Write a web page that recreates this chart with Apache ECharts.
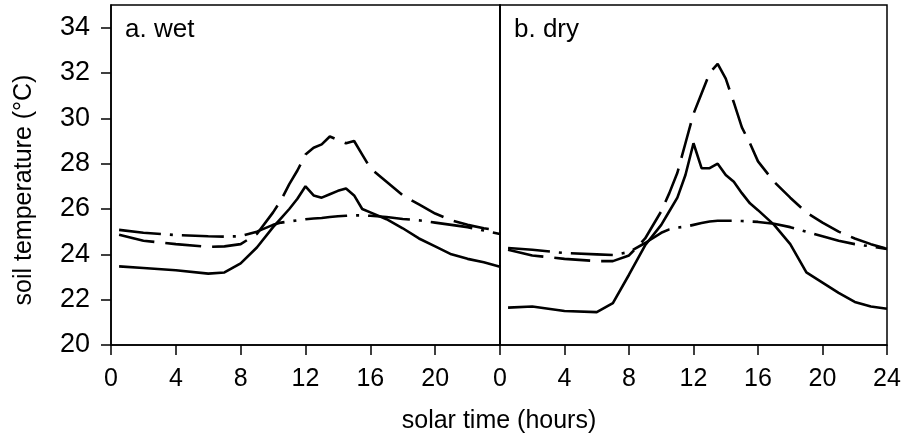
<!DOCTYPE html>
<html>
<head>
<meta charset="utf-8">
<script src="https://cdn.jsdelivr.net/npm/echarts@6/dist/echarts.min.js"></script>
<style>
  html, body { margin: 0; padding: 0; background: #fff; }
  #chart { width: 908px; height: 446px; }
</style>
</head>
<body>
<div id="chart"></div>
<script>
// Solar time of each reading (hours)
const hours = [0.5, 2, 4, 6, 7, 8, 9, 10, 10.5, 11, 11.5, 12, 12.5, 13, 13.5, 14, 14.5, 15, 15.5, 16, 17, 18, 19, 20, 21, 22, 23, 24];

// a. wet — soil temperature (°C)
const wetSolid   = [23.47, 23.4, 23.3, 23.15, 23.2, 23.6, 24.3, 25.2, 25.6, 26.0, 26.45, 27.0, 26.6, 26.5, 26.65, 26.8, 26.9, 26.6, 26.0, 25.85, 25.55, 25.15, 24.7, 24.35, 24.0, 23.8, 23.65, 23.45];
const wetDashed  = [24.86, 24.6, 24.45, 24.33, 24.35, 24.45, 24.9, 25.85, 26.4, 27.1, 27.7, 28.4, 28.7, 28.85, 29.2, 29.05, 28.9, 29.0, 28.4, 27.8, 27.2, 26.6, 26.2, 25.8, 25.5, 25.3, 25.15, 25.05];
const wetDashDot = [25.08, 24.95, 24.85, 24.8, 24.78, 24.8, 25.0, 25.3, 25.4, 25.45, 25.5, 25.55, 25.58, 25.6, 25.65, 25.68, 25.7, 25.72, 25.72, 25.7, 25.65, 25.56, 25.5, 25.4, 25.3, 25.2, 25.05, 24.9];

// b. dry — soil temperature (°C)
const drySolid   = [21.65, 21.7, 21.5, 21.45, 21.85, 23.1, 24.4, 25.3, 25.9, 26.5, 27.5, 28.9, 27.8, 27.8, 28.0, 27.5, 27.2, 26.7, 26.25, 25.95, 25.3, 24.45, 23.2, 22.75, 22.3, 21.9, 21.7, 21.6];
const dryDashed  = [24.2, 23.95, 23.8, 23.7, 23.7, 23.95, 24.7, 25.9, 26.7, 27.6, 28.9, 30.2, 31.1, 32.0, 32.4, 31.75, 30.7, 29.6, 28.9, 28.1, 27.2, 26.5, 25.85, 25.4, 25.0, 24.7, 24.45, 24.25];
const dryDashDot = [24.28, 24.2, 24.06, 24.0, 23.97, 24.1, 24.5, 24.95, 25.1, 25.18, 25.22, 25.3, 25.38, 25.45, 25.48, 25.48, 25.48, 25.47, 25.45, 25.43, 25.35, 25.2, 25.0, 24.8, 24.6, 24.45, 24.35, 24.24];

// Axis ticks and labels
const yTicks = [20, 22, 24, 26, 28, 30, 32, 34];
const xTicks = [0, 4, 8, 12, 16, 20, 24];
const xLabelsWet = [0, 4, 8, 12, 16, 20];
const xLabelsDry = [0, 4, 8, 12, 16, 20, 24];

const FONT = '"Liberation Sans", Arial, Helvetica, sans-serif';
const pairs = arr => hours.map((h, i) => [h, arr[i]]);

const chart = echarts.init(document.getElementById('chart'), null, { renderer: 'canvas' });

const lineCommon = { type: 'line', symbol: 'none', smooth: false, silent: true, z: 3 };
const solidStyle   = { color: '#000', width: 2.6, type: 'solid' };
const dashedStyle  = { color: '#000', width: 2.6, type: [36, 11], cap: 'butt' };
const dashDotStyle = { color: '#000', width: 2.6, type: [42, 9, 3, 9], cap: 'butt' };

function xAxis(gridIndex, labels) {
  return {
    type: 'value', gridIndex, min: 0, max: 24, interval: 4,
    axisLine: { show: true, onZero: false, lineStyle: { color: '#000', width: 1.5 } },
    axisTick: { show: true, inside: false, length: 10, customValues: xTicks, lineStyle: { color: '#000', width: 1.5 } },
    axisLabel: { show: true, customValues: labels, margin: 22, color: '#000', fontFamily: FONT, fontSize: 25 },
    splitLine: { show: false }
  };
}

function yAxis(gridIndex, showLabels) {
  return {
    type: 'value', gridIndex, min: 20, max: 35, interval: 2,
    axisLine: { show: true, lineStyle: { color: '#000', width: 1.5 } },
    axisTick: { show: showLabels, inside: false, length: 10, customValues: yTicks, lineStyle: { color: '#000', width: 1.5 } },
    axisLabel: { show: showLabels, customValues: yTicks, margin: 21, color: '#000', fontFamily: FONT, fontSize: 27 },
    splitLine: { show: false }
  };
}

chart.setOption({
  animation: false,
  backgroundColor: '#fff',
  grid: [
    { left: 111, top: 5, width: 389, height: 340, show: true, borderColor: '#000', borderWidth: 1.5, backgroundColor: 'transparent' },
    { left: 500, top: 5, width: 387, height: 340, show: true, borderColor: '#000', borderWidth: 1.5, backgroundColor: 'transparent' }
  ],
  xAxis: [xAxis(0, xLabelsWet), xAxis(1, xLabelsDry)],
  yAxis: [yAxis(0, true), yAxis(1, false)],
  series: [
    Object.assign({}, lineCommon, { name: 'wet solid', xAxisIndex: 0, yAxisIndex: 0, data: pairs(wetSolid), lineStyle: solidStyle }),
    Object.assign({}, lineCommon, { name: 'wet dashed', xAxisIndex: 0, yAxisIndex: 0, data: pairs(wetDashed), lineStyle: dashedStyle }),
    Object.assign({}, lineCommon, { name: 'wet dash-dot', xAxisIndex: 0, yAxisIndex: 0, data: pairs(wetDashDot), lineStyle: dashDotStyle }),
    Object.assign({}, lineCommon, { name: 'dry solid', xAxisIndex: 1, yAxisIndex: 1, data: pairs(drySolid), lineStyle: solidStyle }),
    Object.assign({}, lineCommon, { name: 'dry dashed', xAxisIndex: 1, yAxisIndex: 1, data: pairs(dryDashed), lineStyle: dashedStyle }),
    Object.assign({}, lineCommon, { name: 'dry dash-dot', xAxisIndex: 1, yAxisIndex: 1, data: pairs(dryDashDot), lineStyle: dashDotStyle })
  ],
  graphic: [
    { type: 'text', left: 125, top: 17, style: { text: 'a. wet', fill: '#000', font: '26px ' + FONT } },
    { type: 'text', left: 514, top: 17, style: { text: 'b. dry', fill: '#000', font: '26px ' + FONT } },
    { type: 'text', x: 499, y: 421, style: { text: 'solar time (hours)', fill: '#000', font: '25px ' + FONT, align: 'center', verticalAlign: 'middle' } },
    { type: 'text', x: 24, y: 190, rotation: Math.PI / 2, style: { text: 'soil temperature (°C)', fill: '#000', font: '25px ' + FONT, align: 'center', verticalAlign: 'middle' } }
  ]
});
</script>
</body>
</html>
